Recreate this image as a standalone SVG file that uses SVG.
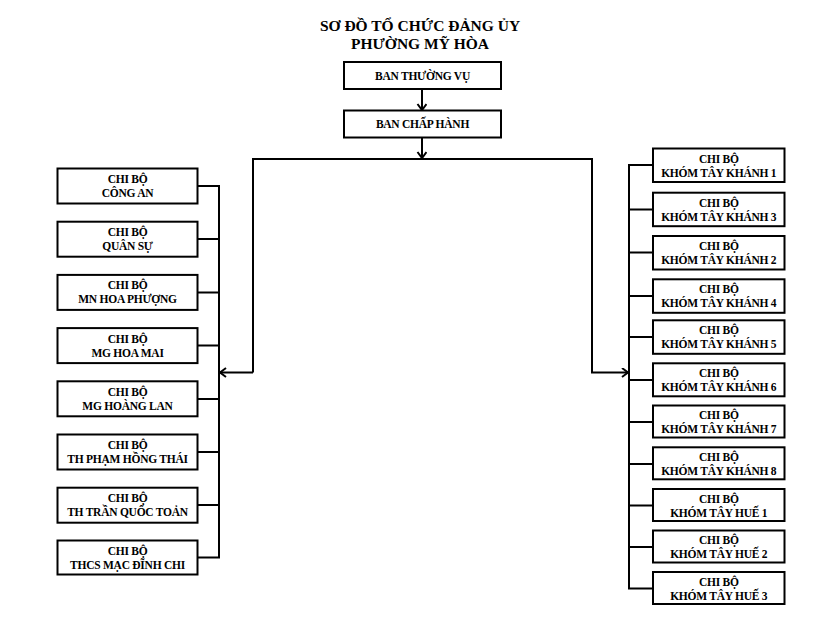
<svg xmlns="http://www.w3.org/2000/svg" width="826" height="622" viewBox="0 0 826 622">
<defs>
<marker id="arr" markerUnits="userSpaceOnUse" markerWidth="12" markerHeight="12" refX="7" refY="5" orient="auto">
<path d="M1,0.5 L7,5 L1,9.5" fill="none" stroke="#000" stroke-width="2"/>
</marker>
<style>
.b{fill:#fff;stroke:#000;stroke-width:2}
.c{fill:none;stroke:#000;stroke-width:2}
text{font-family:"Liberation Serif","Times New Roman",serif;font-weight:bold;fill:#000;text-anchor:middle}
.t{font-size:15.5px}
.s{font-size:11.5px;letter-spacing:-0.25px}
</style>
</defs>
<rect width="826" height="622" fill="#fff"/>
<g id="title">
<text class="t" x="420" y="31">SƠ ĐỒ TỔ CHỨC ĐẢNG ỦY</text>
<text class="t" x="420" y="49">PHƯỜNG MỸ HÒA</text>
</g>
<g id="connectors">
<path class="c" d="M422,89 V110" marker-end="url(#arr)"/>
<path class="c" d="M422,137.5 V158" marker-end="url(#arr)"/>
<path class="c" d="M253,372.5 V159 H592 V372.5 H628" marker-end="url(#arr)"/>
<path class="c" d="M253,372.5 H220" marker-end="url(#arr)"/>
<path class="c" d="M197.5,186 H219 V557.5 H197.5 M197.5,239 H219 M197.5,292.5 H219 M197.5,345.5 H219 M197.5,399 H219 M197.5,452 H219 M197.5,505 H219"/>
<path class="c" d="M653,165 H629 V588.5 H653 M653,209.5 H629 M653,252.5 H629 M653,296 H629 M653,337 H629 M653,380 H629 M653,422 H629 M653,464 H629 M653,505.5 H629 M653,547 H629"/>
</g>
<g id="ban-thuong-vu"><rect class="b" x="344" y="62" width="157" height="27"/><text class="s" x="422.5" y="79.5">BAN THƯỜNG VỤ</text></g>
<g id="ban-chap-hanh"><rect class="b" x="344" y="110.5" width="157" height="27"/><text class="s" x="422.5" y="128">BAN CHẤP HÀNH</text></g>
<g id="cb-cong-an"><rect class="b" x="57.5" y="168.5" width="140" height="35"/><text class="s" x="127.5" y="183">CHI BỘ</text><text class="s" x="127.5" y="197">CÔNG AN</text></g>
<g id="cb-quan-su"><rect class="b" x="57.5" y="221.7" width="140" height="35"/><text class="s" x="127.5" y="236.2">CHI BỘ</text><text class="s" x="127.5" y="250.2">QUÂN SỰ</text></g>
<g id="cb-mn-hoa-phuong"><rect class="b" x="57.5" y="274.9" width="140" height="35"/><text class="s" x="127.5" y="289.4">CHI BỘ</text><text class="s" x="127.5" y="303.4">MN HOA PHƯỢNG</text></g>
<g id="cb-mg-hoa-mai"><rect class="b" x="57.5" y="328.1" width="140" height="35"/><text class="s" x="127.5" y="342.6">CHI BỘ</text><text class="s" x="127.5" y="356.6">MG HOA MAI</text></g>
<g id="cb-mg-hoang-lan"><rect class="b" x="57.5" y="381.3" width="140" height="35"/><text class="s" x="127.5" y="395.8">CHI BỘ</text><text class="s" x="127.5" y="409.8">MG HOÀNG LAN</text></g>
<g id="cb-th-pham-hong-thai"><rect class="b" x="57.5" y="434.5" width="140" height="35"/><text class="s" x="127.5" y="449">CHI BỘ</text><text class="s" x="127.5" y="463">TH PHẠM HỒNG THÁI</text></g>
<g id="cb-th-tran-quoc-toan"><rect class="b" x="57.5" y="487.7" width="140" height="35"/><text class="s" x="127.5" y="502.2">CHI BỘ</text><text class="s" x="127.5" y="516.2">TH TRẦN QUỐC TOẢN</text></g>
<g id="cb-thcs-mac-dinh-chi"><rect class="b" x="57.5" y="540.5" width="140" height="34"/><text class="s" x="127.5" y="555">CHI BỘ</text><text class="s" x="127.5" y="569">THCS MẠC ĐĨNH CHI</text></g>
<g id="cb-tk1"><rect class="b" x="653" y="148.5" width="131.5" height="33.5"/><text class="s" x="718.75" y="162.5">CHI BỘ</text><text class="s" x="718.75" y="176.5">KHÓM TÂY KHÁNH 1</text></g>
<g id="cb-tk3"><rect class="b" x="653" y="192.7" width="131.5" height="33.5"/><text class="s" x="718.75" y="206.7">CHI BỘ</text><text class="s" x="718.75" y="220.7">KHÓM TÂY KHÁNH 3</text></g>
<g id="cb-tk2"><rect class="b" x="653" y="236" width="131.5" height="33.5"/><text class="s" x="718.75" y="250">CHI BỘ</text><text class="s" x="718.75" y="264">KHÓM TÂY KHÁNH 2</text></g>
<g id="cb-tk4"><rect class="b" x="653" y="279.3" width="131.5" height="33.5"/><text class="s" x="718.75" y="293.3">CHI BỘ</text><text class="s" x="718.75" y="307.3">KHÓM TÂY KHÁNH 4</text></g>
<g id="cb-tk5"><rect class="b" x="653" y="320.3" width="131.5" height="33.5"/><text class="s" x="718.75" y="334.3">CHI BỘ</text><text class="s" x="718.75" y="348.3">KHÓM TÂY KHÁNH 5</text></g>
<g id="cb-tk6"><rect class="b" x="653" y="363.3" width="131.5" height="33"/><text class="s" x="718.75" y="377.3">CHI BỘ</text><text class="s" x="718.75" y="391.3">KHÓM TÂY KHÁNH 6</text></g>
<g id="cb-tk7"><rect class="b" x="653" y="405.5" width="131.5" height="32"/><text class="s" x="718.75" y="419">CHI BỘ</text><text class="s" x="718.75" y="433">KHÓM TÂY KHÁNH 7</text></g>
<g id="cb-tk8"><rect class="b" x="653" y="447.3" width="131.5" height="32"/><text class="s" x="718.75" y="460.8">CHI BỘ</text><text class="s" x="718.75" y="474.8">KHÓM TÂY KHÁNH 8</text></g>
<g id="cb-th1"><rect class="b" x="653" y="489" width="131.5" height="32"/><text class="s" x="718.75" y="502.5">CHI BỘ</text><text class="s" x="718.75" y="516.5">KHÓM TÂY HUẾ 1</text></g>
<g id="cb-th2"><rect class="b" x="653" y="530.5" width="131.5" height="32"/><text class="s" x="718.75" y="544">CHI BỘ</text><text class="s" x="718.75" y="558">KHÓM TÂY HUẾ 2</text></g>
<g id="cb-th3"><rect class="b" x="653" y="572" width="131.5" height="32"/><text class="s" x="718.75" y="585.5">CHI BỘ</text><text class="s" x="718.75" y="599.5">KHÓM TÂY HUẾ 3</text></g>
</svg>
